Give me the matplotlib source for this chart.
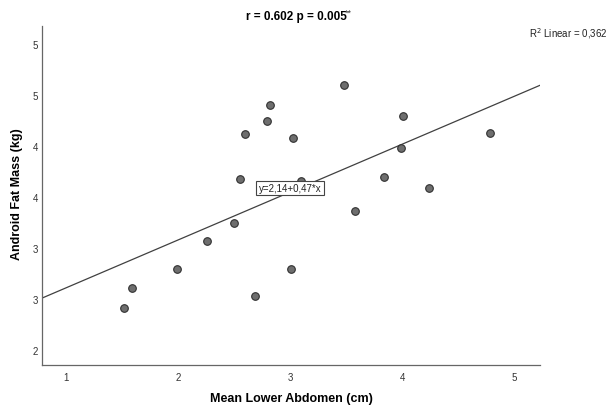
import matplotlib
matplotlib.use("Agg")
import matplotlib.pyplot as plt
import numpy as np

plt.rcParams['font.family'] = ['Liberation Sans', 'DejaVu Sans']

# Data
lower_abdomen = [1.52, 1.59, 1.99, 2.26, 2.50, 2.55, 2.60, 2.69, 2.79, 2.82,
                 3.03, 3.01, 3.10, 3.48, 3.58, 3.84, 3.99, 4.01, 4.24, 4.78]
android_fat = [2.41, 2.61, 2.80, 3.07, 3.25, 3.68, 4.12, 2.53, 4.25, 4.40,
               4.08, 2.80, 3.66, 4.60, 3.36, 3.70, 3.98, 4.30, 3.59, 4.13]
intercept, slope = 2.14, 0.47
x_ticks = [1, 2, 3, 4, 5]
y_ticks = [2.0, 2.5, 3.0, 3.5, 4.0, 4.5, 5.0]
y_tick_labels = ["2", "3", "3", "4", "4", "5", "5"]

fig = plt.figure(figsize=(6.15, 4.10), dpi=100)
ax = fig.add_axes([42/615, 1-366/410, (540-42)/615, (366-27)/410])

xlim = (0.786, 5.23)
ylim = (1.853, 5.18)
ax.set_xlim(*xlim)
ax.set_ylim(*ylim)

xs = np.array(xlim)
ax.plot(xs, intercept + slope*xs, color="#404040", lw=0.9, zorder=2)

ax.scatter(lower_abdomen, android_fat, s=30, facecolor="#6e6e6e",
           edgecolor="#303030", linewidth=0.8, zorder=3)

for s in ["top", "right"]:
    ax.spines[s].set_visible(False)
for s in ["left", "bottom"]:
    ax.spines[s].set_color("#666666")
    ax.spines[s].set_linewidth(0.9)

ax.set_xticks(x_ticks)
ax.set_xticklabels([str(v) for v in x_ticks])
ax.set_yticks(y_ticks)
ax.set_yticklabels(y_tick_labels)
ax.tick_params(axis="both", length=0, labelsize=7, colors="#333333")
ax.tick_params(axis="x", pad=5)
ax.tick_params(axis="y", pad=3)

fig.text(291/615, 1-399/410, "Mean Lower Abdomen (cm)", ha="center", va="center",
         fontsize=9, fontweight="bold")
fig.text(17/615, 1-194/410, "Android Fat Mass (kg)", ha="center", va="center",
         fontsize=9, fontweight="bold", rotation=90)

fig.text(296/615, 1-17/410, "r = 0.602 p = 0.005", ha="center", va="center",
         fontsize=8.5, fontweight="bold")
fig.text(345/615, 1-13/410, "**", ha="left", va="center", fontsize=6.5,
         color="#333333")
fig.text(608/615, 1-34/410, r"R$^2$ Linear = 0,362", ha="right", va="center",
         fontsize=7, color="#222222")

ax.text(3.0, 3.59, "y=2,14+0,47*x", ha="center", va="center", fontsize=7,
        color="#222222", zorder=4,
        bbox=dict(boxstyle="square,pad=0.25", facecolor="white",
                  edgecolor="#444444", linewidth=0.8))

fig.savefig("out.png", dpi=100)
